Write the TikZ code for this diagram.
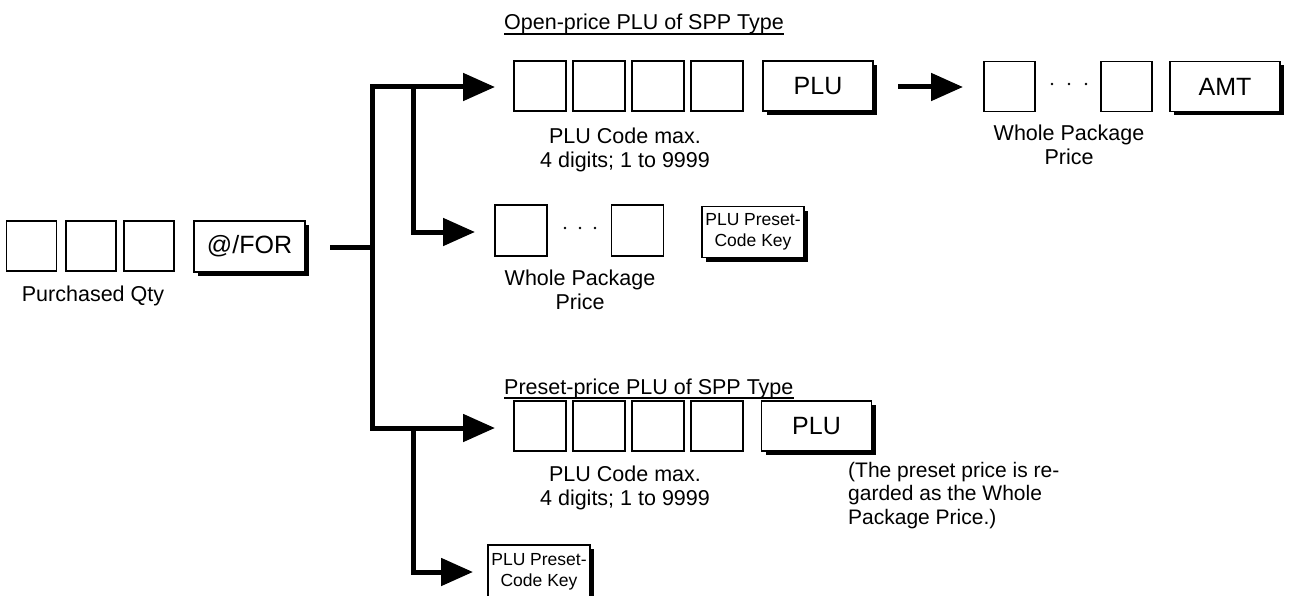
\documentclass[tikz,border=0pt]{standalone}
\usepackage{fontspec}
\setmainfont{Liberation Sans}
\usetikzlibrary{arrows.meta,shadows}
\begin{document}
\begin{tikzpicture}[x=1pt,y=-1pt,
  sq/.style={draw,line width=1.3pt,minimum width=51pt,minimum height=50pt,inner sep=0pt},
  keybox/.style={draw,fill=white,line width=1.3pt,inner sep=0pt,minimum width=110pt,minimum height=50pt,
     font=\fontsize{25}{30}\selectfont,
     drop shadow={opacity=1,fill=black,shadow xshift=4pt,shadow yshift=-4pt}},
  smallkey/.style={keybox,font=\fontsize{17.5}{21}\selectfont,align=center,minimum width=102pt,minimum height=51pt},
  lbl/.style={font=\fontsize{21.5}{24}\selectfont,align=center,inner sep=0pt},
  note/.style={font=\fontsize{21}{23.5}\selectfont,align=left,inner sep=0pt,anchor=north west},
  head/.style={font=\fontsize{21.5}{26}\selectfont,inner sep=0pt,anchor=base west},
  conn/.style={line width=5pt,-{Triangle[length=32pt,width=27pt]}},
  both/.style={line width=5pt,{Triangle[length=32pt,width=27pt]}-{Triangle[length=32pt,width=27pt]}},
  dotc/.style={fill,circle,inner sep=0pt,minimum size=2.6pt}
]
\useasboundingbox (0,0) rectangle (1289,596);

% purchased qty
\node[sq,minimum width=50pt] (q1) at (31.5,246) {};
\node[sq,minimum width=50pt] (q2) at (91,246) {};
\node[sq,minimum width=50pt] (q3) at (149,246) {};
\node[lbl] (ql) at (93,296) {Purchased Qty};
\node[keybox,minimum width=111pt,minimum height=51pt] (for) at (249.5,246.5) {@/FOR};

% headings
\node[head] (h1) at (504,30) {Open-price PLU of SPP Type};
\draw[line width=1.3pt] ([yshift=-4pt]h1.base west) -- ([yshift=-4pt]h1.base east);
\node[head] (h2) at (504,394.5) {Preset-price PLU of SPP Type};
\draw[line width=1.3pt] ([yshift=-3.5pt]h2.base west) -- ([yshift=-3.5pt]h2.base east);

% row 1
\node[sq,minimum width=52pt] (a1) at (540,86) {};
\node[sq,minimum width=52pt] (a2) at (599,86) {};
\node[sq,minimum width=52pt] (a3) at (658,86) {};
\node[sq,minimum width=52pt] (a4) at (717,86) {};
\node[keybox] (plu1) at (818,86) {PLU};
\node[lbl] (al) at (625,150) {PLU Code max.\\4 digits; 1 to 9999};
\node[sq] (p1) at (1009.5,86.5) {};
\node[dotc] (d1) at (1052,84) {};
\node[dotc] (d2) at (1069,84) {};
\node[dotc] (d3) at (1086,84) {};
\node[sq] (p2) at (1126.5,86.5) {};
\node[keybox] (amt) at (1225,86.5) {AMT};
\node[lbl] (pl) at (1069,145) {Whole Package\\Price};
\coordinate (e1) at (898,87);
\coordinate (e2) at (963,87);
\draw[conn] (e1) -- (e2);

% row 2
\node[sq,minimum width=52pt,minimum height=51pt] (b1) at (521,230.5) {};
\node[dotc] (d4) at (565,228) {};
\node[dotc] (d5) at (580,228) {};
\node[dotc] (d6) at (595,228) {};
\node[sq,minimum width=52pt,minimum height=51pt] (b2) at (637.5,230.5) {};
\node[lbl] (bl) at (580,290) {Whole Package\\Price};
\node[smallkey] (pk1) at (753,232) {PLU Preset-\\Code Key};

% row 3
\node[sq,minimum width=52pt] (c1) at (540,426) {};
\node[sq,minimum width=52pt] (c2) at (599,426) {};
\node[sq,minimum width=52pt] (c3) at (658,426) {};
\node[sq,minimum width=52pt] (c4) at (717,426) {};
\node[keybox] (plu2) at (816.5,426) {PLU};
\node[lbl] (cl) at (625,488) {PLU Code max.\\4 digits; 1 to 9999};
\node[note] (nt) at (848,462) {(The preset price is re-\\garded as the Whole\\Package Price.)};

% row 4
\node[smallkey,minimum height=53pt] (pk2) at (539,571.5) {PLU Preset-\\Code Key};

% connectors
\coordinate (s0) at (330,247);
\coordinate (j0) at (372,247);
\coordinate (jt) at (372,87);
\coordinate (jb) at (372,428);
\coordinate (kt) at (413,87);
\coordinate (km) at (413,232);
\coordinate (kb) at (413,428);
\coordinate (kl) at (413,572);
\coordinate (t1) at (495,87);
\coordinate (t2) at (475,232);
\coordinate (t3) at (495,428);
\coordinate (t4) at (473,572);
\draw[line width=5pt] (s0) -- (j0);
\draw[both] (t3) -- (jb) -- (jt) -- (t1);
\draw[conn] (kt) -- (km) -- (t2);
\draw[conn] (kb) -- (kl) -- (t4);
\end{tikzpicture}
\end{document}
